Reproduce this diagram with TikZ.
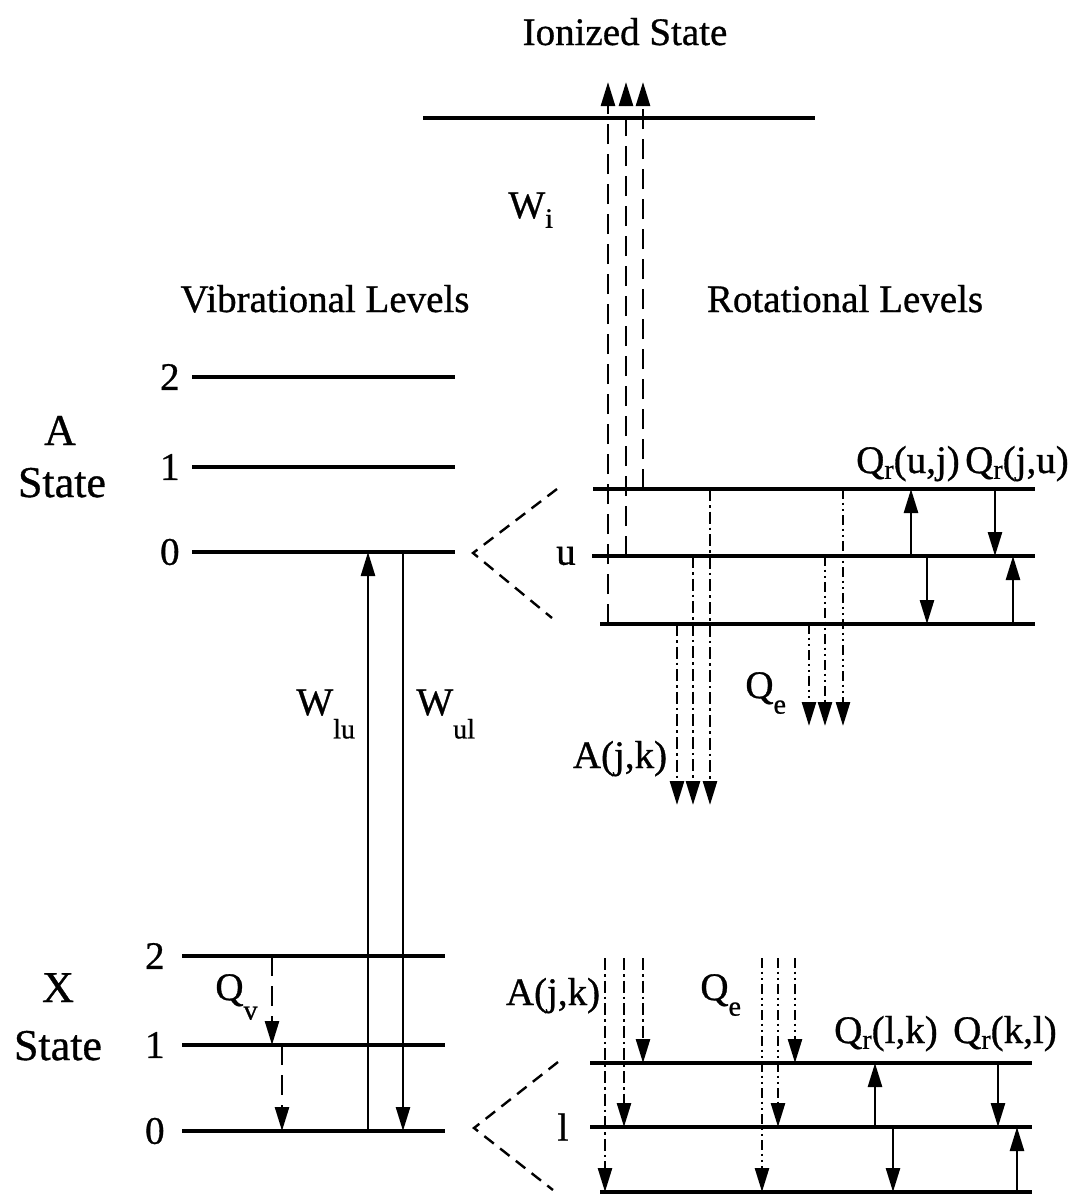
\documentclass[tikz,border=0pt]{standalone}
\usepackage{fontspec}
\setmainfont{Liberation Serif}[FakeBold=0.8]
\usetikzlibrary{arrows.meta}
\newcommand{\dsub}[2]{\raisebox{-#1}{\fontsize{14}{14}\selectfont #2}}

\begin{document}
\begin{tikzpicture}[x=.5pt,y=-.5pt,font=\fontsize{19.5}{22}\selectfont,
    >={Triangle[length=12pt,width=7pt]},
    level/.style={line width=2pt},
    trans/.style={line width=1.3pt,->},
    wdash/.style={trans,dash pattern=on 10pt off 5pt},
    dashdot/.style={trans,dash pattern=on 6pt off 2pt on 1.3pt off 2pt},
    dashdotdot/.style={trans,dash pattern=on 5pt off 1.8pt on 1.3pt off 1.8pt on 1.3pt off 1.8pt},
    split/.style={line width=1.2pt,dash pattern=on 6pt off 4pt},
    lbl/.style={anchor=base,inner sep=0pt}]
  \useasboundingbox (0,0) rectangle (1080,1196);
  % levels
  \draw[level] (423,118) coordinate (ion) -- (815,118);
  \coordinate (ionTop) at (0,82);
  \foreach \n/\y in {2/377,1/467,0/552} {
    \draw[level] (192,\y) coordinate (A\n) -- (455,\y);
    \node[left=6pt,inner sep=0pt] (nA\n) at (A\n) {\n};
  }
  \foreach \n/\y in {2/956,1/1045,0/1131} {
    \draw[level] (182,\y) coordinate (X\n) -- (445,\y);
    \node[left=8.5pt,inner sep=0pt] (nX\n) at (X\n) {\n};
  }
  \foreach \n/\y/\xs in {t/489/593,m/556/592,b/624/600}
    \draw[level] (\xs,\y) coordinate (u\n) -- (1035,\y);
  \foreach \n/\y/\xs in {t/1063/590,m/1127/590,b/1192/600}
    \draw[level] (\xs,\y) coordinate (l\n) -- (1032,\y);
  % rotational splitting
  \draw[split] (557,489) -- (473,553) -- (552,618);
  \draw[split] (558,1062) -- (474,1128) -- (553,1190);
  % vibrational transitions
  \foreach \x/\lv in {608/ub,626/um,643/ut}
    \draw[wdash] (\x,0 |- \lv) -- (\x,0 |- ionTop);
  \draw[trans] (368,0 |- X0) -- (368,0 |- A0);
  \draw[trans] (403,0 |- A0) -- (403,0 |- X0);
  \draw[wdash] (272,0 |- X2) -- (272,0 |- X1);
  \draw[wdash] (282,0 |- X1) -- (282,0 |- X0);
  % upper rotational transitions
  \coordinate (aEnd) at (0,805);
  \coordinate (qEnd) at (0,726);
  \foreach \x/\lv in {677/ub,693/um,710/ut}
    \draw[dashdot] (\x,0 |- \lv) -- (\x,0 |- aEnd);
  \foreach \x/\lv in {809/ub,825/um,843/ut}
    \draw[dashdotdot] (\x,0 |- \lv) -- (\x,0 |- qEnd);
  \foreach \x/\a/\b in {911/um/ut,995/ut/um,927/um/ub,1013/ub/um}
    \draw[trans] (\x,0 |- \a) -- (\x,0 |- \b);
  % lower rotational transitions
  \coordinate (lStart) at (0,958);
  \foreach \x/\lv in {605/lb,624/lm,643/lt}
    \draw[dashdot] (\x,0 |- lStart) -- (\x,0 |- \lv);
  \foreach \x/\lv in {762/lb,778/lm,795/lt}
    \draw[dashdotdot] (\x,0 |- lStart) -- (\x,0 |- \lv);
  \foreach \x/\a/\b in {875/lm/lt,998/lt/lm,893/lm/lb,1017/lb/lm}
    \draw[trans] (\x,0 |- \a) -- (\x,0 |- \b);
  % labels
  \node[lbl] (ionlbl) at (625,45) {Ionized State};
  \node[lbl,anchor=base west] (wi) at (508,218) {W\dsub{.25em}{i}};
  \node[lbl] (viblbl) at (325,312) {Vibrational Levels};
  \node[lbl] (rotlbl) at (845,312) {Rotational Levels};
  \node[lbl,font=\fontsize{22}{24}\selectfont] (stA) at (60,445) {A};
  \node[lbl,font=\fontsize{22}{24}\selectfont] (stAs) at (62,497) {State};
  \node[lbl,font=\fontsize{22}{24}\selectfont] (stX) at (58,1002) {X};
  \node[lbl,font=\fontsize{22}{24}\selectfont] (stXs) at (58,1060) {State};
  \node[lbl,anchor=base west] (wlu) at (296,715) {W\dsub{.6em}{lu}};
  \node[lbl,anchor=base west] (wul) at (416,715) {W\dsub{.6em}{ul}};
  \node[lbl,anchor=base west] (qv) at (215,1000) {Q\dsub{.5em}{v}};
  \node (ulbl) at (566,556) {u};
  \node (llbl) at (563,1127) {l};
  \node[lbl] (ajku) at (620,768) {A(j,k)};
  \node[lbl,anchor=base west] (qeu) at (745,698) {Q\dsub{.4em}{e}};
  \node[lbl] (qruj) at (908,473) {Q\dsub{.15em}{r}(u,j)};
  \node[lbl] (qrju) at (1017,473) {Q\dsub{.15em}{r}(j,u)};
  \node[lbl] (ajkl) at (553,1005) {A(j,k)};
  \node[lbl,anchor=base west] (qel) at (700,1000) {Q\dsub{.4em}{e}};
  \node[lbl] (qrlk) at (886,1043) {Q\dsub{.15em}{r}(l,k)};
  \node[lbl] (qrkl) at (1005,1043) {Q\dsub{.15em}{r}(k,l)};
\end{tikzpicture}
\end{document}
